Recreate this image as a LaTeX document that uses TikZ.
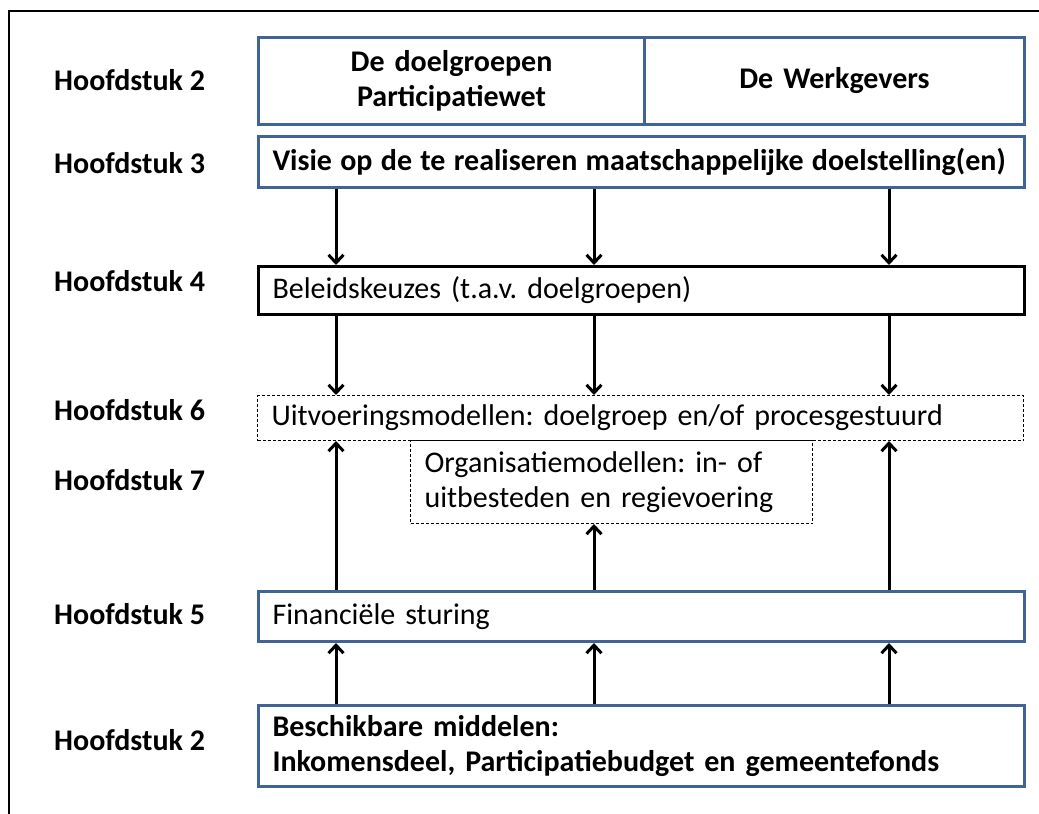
\documentclass[tikz,border=0pt]{standalone}
\usepackage{fontspec}
\setmainfont{Carlito}
\usetikzlibrary{arrows.meta}
\definecolor{boxblue}{RGB}{65,100,150}
\frenchspacing

\begin{document}
\begin{tikzpicture}[x=1pt,y=-1pt,
        hfd/.style={anchor=west,inner sep=0pt,font=\fontsize{30}{35}\selectfont\bfseries},
        box/.style={anchor=north west,inner xsep=14pt,inner ysep=0pt,align=left,font=\fontsize{30}{35}\selectfont},
        bluebox/.style={box,draw=boxblue,line width=3pt},
        dashbox/.style={box,draw,line width=1pt,dash pattern=on 3pt off 2pt},
        bold/.style={font=\fontsize{30}{35}\selectfont\bfseries},
        arr/.style={line width=3pt,-{Straight Barb[length=8pt,width=15pt]}}]
        \useasboundingbox (0,0) rectangle (1039,814);
        \draw [line width=2pt] (9,814) -- (9,11) -- (1039,11);

        % chapter labels
        \node [hfd] at (54,80) (h2a) {Hoofdstuk 2};
        \node [hfd] at (54,163) (h3) {Hoofdstuk 3};
        \node [hfd] at (54,281) (h4) {Hoofdstuk 4};
        \node [hfd] at (54,410) (h6) {Hoofdstuk 6};
        \node [hfd] at (54,480) (h7) {Hoofdstuk 7};
        \node [hfd] at (54,614) (h5) {Hoofdstuk 5};
        \node [hfd] at (54,740) (h2b) {Hoofdstuk 2};

        % boxes
        \node [bluebox,bold,align=center,text width=358pt,minimum height=87pt] at (257,36) (doel) {De doelgroepen\\Participatiewet};
        \node [bluebox,bold,align=center,text width=352pt,minimum height=87pt] at (643,36) (werk) {De Werkgevers};
        \node [bluebox,bold,text width=738pt,minimum height=51pt] at (257,135) (visie) {\mbox{\spaceskip=8.3pt Visie op de te realiseren maatschappelijke doelstelling(en)}};
        \node [box,draw,line width=3pt,text width=738pt,minimum height=48pt] at (257,265) (beleid) {Beleidskeuzes (t.a.v. doelgroepen)};
        \node [dashbox,text width=738pt,minimum height=45pt] at (257,395) (uitvoer) {Uitvoeringsmodellen: doelgroep en/of procesgestuurd};
        \node [dashbox,text width=374pt,minimum height=83pt] at (410,440) (organ) {Organisatiemodellen: in- of\\uitbesteden en regievoering};
        \node [bluebox,text width=738pt,minimum height=50pt] at (257,590) (financ) {Financiële sturing};
        \node [bluebox,bold,text width=738pt,minimum height=81pt] at (257,704) (middel) {Beschikbare middelen:\\Inkomensdeel, Participatiebudget en gemeentefonds};

        % arrows
        \coordinate (a1) at (336,0);
        \coordinate (a2) at (594,0);
        \coordinate (a3) at (889,0);
        \foreach \c in {a1,a2,a3} {
          \draw [arr] (visie.south -| \c) -- (beleid.north -| \c);
          \draw [arr] (beleid.south -| \c) -- (uitvoer.north -| \c);
          \draw [arr] (middel.north -| \c) -- (financ.south -| \c);
        }
        \draw [arr] (financ.north -| a1) -- (uitvoer.south -| a1);
        \draw [arr] (financ.north -| a2) -- (organ.south -| a2);
        \draw [arr] (financ.north -| a3) -- (uitvoer.south -| a3);
\end{tikzpicture}
\end{document}
